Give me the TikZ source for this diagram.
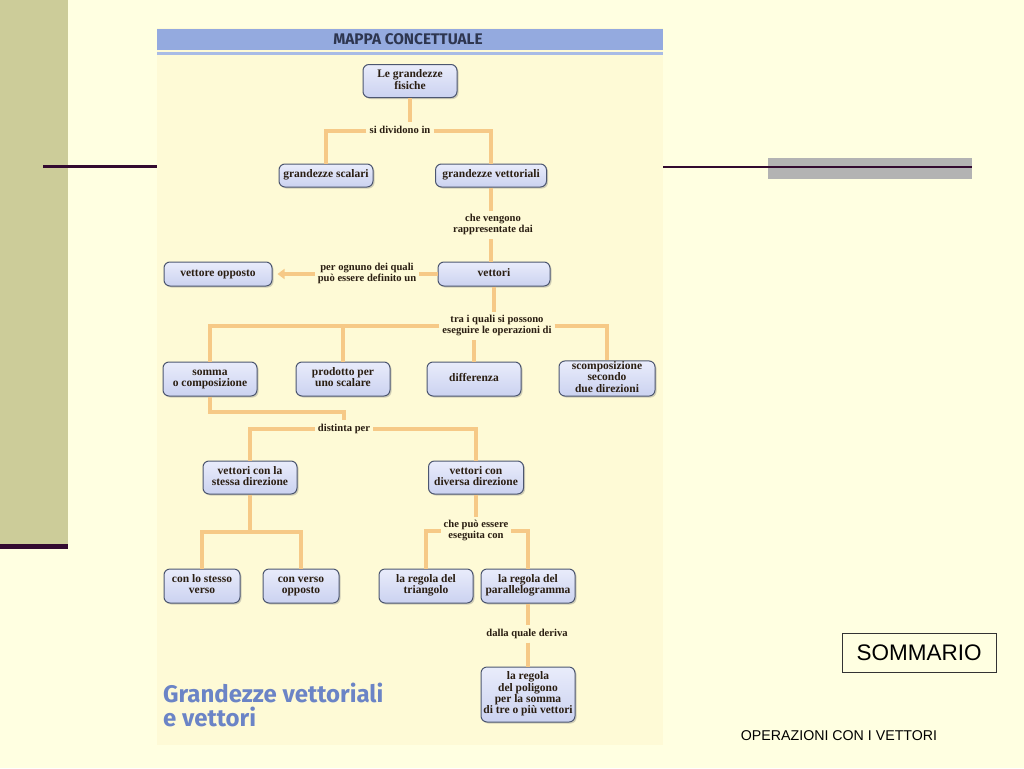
\documentclass[tikz,border=0pt]{standalone}
\usepackage{fontspec}
\setmainfont{Liberation Serif}
\newfontfamily\sansf{Liberation Sans}
\newfontfamily\titlef{Fira Sans}
\usetikzlibrary{arrows.meta,shadows}
\newcommand\celltxt[1]{\begin{tabular}{@{}c@{}}#1\end{tabular}}
\definecolor{slidebg}{HTML}{FFFFE1}
\definecolor{scanbg}{HTML}{FEFAD6}
\definecolor{olive}{HTML}{CCCC99}
\definecolor{plum}{HTML}{330A30}
\definecolor{greybar}{HTML}{B3B3B3}
\definecolor{headblue}{HTML}{94AADF}
\definecolor{headline}{HTML}{A9BBE5}
\definecolor{headtxt}{HTML}{2E3650}
\definecolor{titleblue}{HTML}{6B84C6}
\definecolor{boxline}{HTML}{4C5670}
\definecolor{boxtop}{HTML}{E9ECFB}
\definecolor{boxbot}{HTML}{CBD2F0}
\definecolor{txt}{HTML}{2A1E12}
\definecolor{conncol}{HTML}{F6C987}
\tikzset{
  box/.style={draw=boxline, line width=1pt, rounded corners=6pt,
    top color=boxtop, bottom color=boxbot, text=txt,
    font=\fontsize{11.5}{11.3}\selectfont\bfseries, inner xsep=2pt, inner ysep=0.5pt,
    drop shadow={shadow xshift=1.5pt, shadow yshift=-1.5pt, opacity=0.35}},
  lab/.style={fill=scanbg, text=txt, inner sep=3pt,
    font=\fontsize{10.6}{11}\selectfont\bfseries},
  conn/.style={draw=conncol, line width=4pt, line cap=butt, line join=miter},
  deco/.style={line width=2.5pt, draw=plum}
}
\begin{document}
\begin{tikzpicture}[x=1pt,y=-1pt]
% slide background
\fill[slidebg] (0,0) rectangle (1024,768);
\useasboundingbox (0,0) rectangle (1024,768);
\fill[olive] (0,0) rectangle (68,545);
\fill[plum] (0,544) rectangle (68,548.5);
\draw[deco] (43,166.5) -- (157,166.5);
\fill[greybar] (768,158) rectangle (972,179);
\draw[deco] (663,167) -- (972,167);
% scanned page
\fill[scanbg] (157,28) rectangle (663,745);
\fill[headblue] (157,29) rectangle (663,50);
\fill[headline] (157,52) rectangle (663,55);
\node[font=\titlef\fontsize{15.4}{16}\selectfont\bfseries, text=headtxt] (head) at (408,39.5) {MAPPA CONCETTUALE};
\node[font=\titlef\fontsize{24}{23.5}\selectfont\bfseries, text=titleblue, align=left, anchor=north west, inner sep=0pt] (title) at (163,683) {Grandezze vettoriali\\e vettori};
% boxes
\node[box, minimum width=94pt, minimum height=33pt] (fis) at (410,81) {\celltxt{Le grandezze\\fisiche}};
\node[box, minimum width=94pt, minimum height=23pt] (sca) at (326,175.5) {\celltxt{grandezze scalari}};
\node[box, minimum width=111pt, minimum height=23pt] (vet) at (491,175.5) {\celltxt{grandezze vettoriali}};
\node[box, minimum width=112pt, minimum height=24pt] (vett) at (494,274) {\celltxt{vettori}};
\node[box, minimum width=108pt, minimum height=24pt] (opp) at (218,274) {\celltxt{vettore opposto}};
\node[box, minimum width=94pt, minimum height=34pt] (som) at (210,379) {\celltxt{somma\\o composizione}};
\node[box, minimum width=94pt, minimum height=34pt] (prod) at (343,379) {\celltxt{prodotto per\\uno scalare}};
\node[box, minimum width=94pt, minimum height=34pt] (diff) at (474,379) {\celltxt{differenza}};
\node[box, minimum width=96pt, minimum height=35pt] (scomp) at (607,378.5) {\celltxt{scomposizione\\secondo\\due direzioni}};
\node[box, minimum width=94pt, minimum height=33pt] (sd) at (250,477.5) {\celltxt{vettori con la\\stessa direzione}};
\node[box, minimum width=95pt, minimum height=33pt] (dd) at (476,477.5) {\celltxt{vettori con\\diversa direzione}};
\node[box, minimum width=76pt, minimum height=34pt] (ss) at (202,586) {\celltxt{con lo stesso\\verso}};
\node[box, minimum width=76pt, minimum height=34pt] (so) at (301,586) {\celltxt{con verso\\opposto}};
\node[box, minimum width=94pt, minimum height=34pt] (tri) at (426,586) {\celltxt{la regola del\\triangolo}};
\node[box, minimum width=94pt, minimum height=34pt] (par) at (528,586) {\celltxt{la regola del\\parallelogramma}};
\node[box, minimum width=94pt, minimum height=55pt] (pol) at (528,694.5) {\celltxt{la regola\\del poligono\\per la somma\\di tre o più vettori}};
% labels
\node[lab] (sidiv) at (400,131) {\celltxt{si dividono in}};
\node[lab] (rap) at (493,225) {\celltxt{che vengono\\rappresentate dai}};
\node[lab] (per) at (367,274) {\celltxt{per ognuno dei quali\\può essere definito un}};
\node[lab] (tra) at (497,326) {\celltxt{tra i quali si possono\\eseguire le operazioni di}};
\node[lab] (dist) at (344,429) {\celltxt{distinta per}};
\node[lab] (pue) at (476,531) {\celltxt{che può essere\\eseguita con}};
\node[lab] (dq) at (527,634) {\celltxt{dalla quale deriva}};
\coordinate (k1) at (210,412);
\coordinate (k2) at (250,532);
% connectors
\draw[conn] (fis.south) -- (fis.south |- sidiv.north);
\draw[conn] (sidiv.west) -| (sca.north);
\draw[conn] (sidiv.east) -| (vet.north);
\draw[conn] (vet.south) -- (vet.south |- rap.north);
\draw[conn] (vet.south |- rap.south) -- (vet.south |- vett.north);
\draw[conn] (vett.west) -- (per.east);
\draw[conn, -{Triangle[length=7pt,width=10pt]}, shorten >=5pt] (per.west) -- (opp.east);
\draw[conn] (vett.south) -- (vett.south |- tra.north);
\draw[conn] (tra.west) -| (som.north);
\draw[conn] (prod.north) -- (prod.north |- tra.west);
\draw[conn] (diff.north) -- (diff.north |- tra.south);
\draw[conn] (tra.east) -| (scomp.north);
\draw[conn] (som.south) -- (k1) -| (dist.north);
\draw[conn] (dist.west) -| (sd.north);
\draw[conn] (dist.east) -| (dd.north);
\draw[conn] (sd.south) -- (k2);
\draw[conn] (ss.north) |- (k2) -| (so.north);
\draw[conn] (dd.south) -- (dd.south |- pue.north);
\draw[conn] (pue.west) -| (tri.north);
\draw[conn] (pue.east) -| (par.north);
\draw[conn] (par.south) -- (par.south |- dq.north);
\draw[conn] (par.south |- dq.south) -- (pol.north);
% slide texts
\node[draw=black!80, line width=1pt, minimum width=154pt, minimum height=39pt, font=\sansf\fontsize{22.5}{24}\selectfont] (som2) at (919,652.5) {SOMMARIO};
\node[font=\sansf\fontsize{14.2}{16}\selectfont] (oper) at (839,736) {OPERAZIONI CON I VETTORI};
\end{tikzpicture}
\end{document}
